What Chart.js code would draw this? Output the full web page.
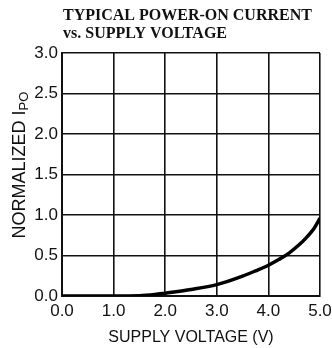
<!DOCTYPE html>
<html><head><meta charset="utf-8">
<script src="https://cdn.jsdelivr.net/npm/chart.js@4/dist/chart.umd.min.js"></script>
<style>html,body{margin:0;padding:0;background:#fff}canvas{display:block}</style>
</head><body>
<canvas id="c" width="332" height="348"></canvas>
<script>
const titleLines = ["TYPICAL POWER-ON CURRENT", "vs. SUPPLY VOLTAGE"];
const xTitle = "SUPPLY VOLTAGE (V)";
const yTitleMain = "NORMALIZED I";
const yTitleSub = "PO";
const voltage = [0, 0.5, 1.0, 1.5, 1.8, 2.0, 2.5, 3.0, 3.5, 3.75, 4.0, 4.2, 4.4, 4.6, 4.75, 4.88, 5.0];
const current = [0, 0, 0, 0.003, 0.018, 0.035, 0.08, 0.14, 0.245, 0.31, 0.38, 0.45, 0.53, 0.635, 0.73, 0.83, 0.96];

const textPlugin = {
  id: 'texts',
  afterDraw(chart) {
    const ctx = chart.ctx;
    ctx.save();
    ctx.fillStyle = '#111';
    ctx.font = 'bold 16px "Liberation Serif", "Times New Roman", serif';
    ctx.textAlign = 'left'; ctx.textBaseline = 'alphabetic';
    ctx.fillText(titleLines[0], 63, 20);
    ctx.fillText(titleLines[1], 63, 38);
    ctx.font = '16px "Liberation Sans", Arial, sans-serif';
    ctx.textAlign = 'center'; ctx.textBaseline = 'middle';
    ctx.fillText(xTitle, 191, 338);
    ctx.translate(18, 165);
    ctx.rotate(-Math.PI / 2);
    ctx.font = '18px "Liberation Sans", Arial, sans-serif';
    const mainW = ctx.measureText(yTitleMain).width;
    ctx.font = '13px "Liberation Sans", Arial, sans-serif';
    const subW = ctx.measureText(yTitleSub).width;
    const total = mainW + subW;
    ctx.textAlign = 'left'; ctx.textBaseline = 'alphabetic';
    ctx.font = '18px "Liberation Sans", Arial, sans-serif';
    ctx.fillText(yTitleMain, -total / 2, 6.5);
    ctx.font = '13px "Liberation Sans", Arial, sans-serif';
    ctx.fillText(yTitleSub, -total / 2 + mainW, 10);
    ctx.restore();
  }
};

new Chart(document.getElementById('c'), {
  type: 'line',
  data: {
    datasets: [{
      data: voltage.map((v, i) => ({ x: v, y: current[i] })),
      borderColor: '#000',
      borderWidth: 3.5,
      pointRadius: 0,
      cubicInterpolationMode: 'monotone',
      fill: false
    }]
  },
  options: {
    responsive: false,
    animation: false,
    layout: { padding: { top: 53, right: 12, left: 0, bottom: 0 } },
    plugins: { legend: { display: false }, tooltip: { enabled: false } },
    scales: {
      x: {
        type: 'linear', min: 0, max: 5,
        afterFit: s => { s.height = 52; s.paddingLeft = 0; s.paddingRight = 0; },
        ticks: { stepSize: 1, callback: v => v.toFixed(1), color: '#111', padding: 5,
          font: { family: '"Liberation Sans", Arial, sans-serif', size: 17 }, maxRotation: 0 },
        grid: { color: '#111', lineWidth: 1.6, drawTicks: false },
        border: { color: '#111', width: 2 }
      },
      y: {
        min: 0, max: 3,
        afterFit: s => { s.width = 62; s.paddingTop = 0; s.paddingBottom = 0; },
        ticks: { stepSize: 0.5, callback: v => v.toFixed(1), color: '#111', padding: 4,
          font: { family: '"Liberation Sans", Arial, sans-serif', size: 17 } },
        grid: { color: '#111', lineWidth: 1.6, drawTicks: false },
        border: { color: '#111', width: 2 }
      }
    }
  },
  plugins: [textPlugin]
});
</script>
</body></html>
